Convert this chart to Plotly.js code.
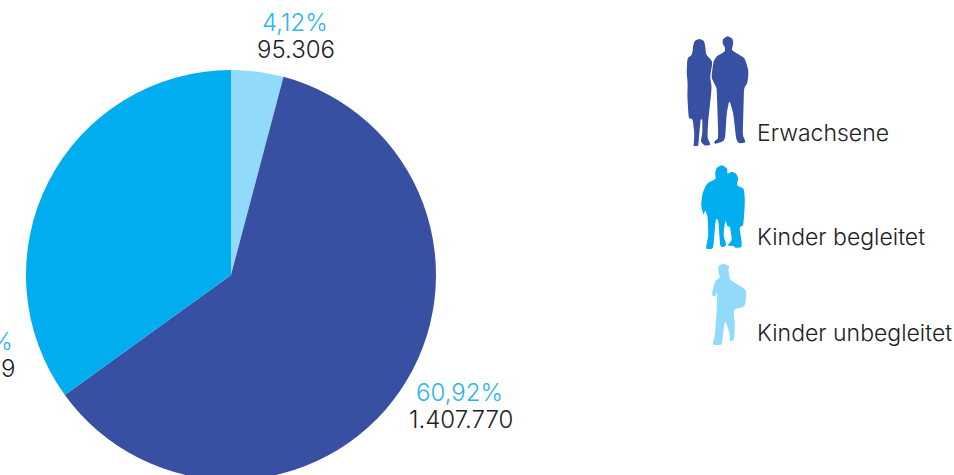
<!DOCTYPE html>
<html>
<head>
<meta charset="utf-8">
<script src="https://cdn.plot.ly/plotly-3.0.1.min.js"></script>
<style>
html,body{margin:0;padding:0;background:#fff;overflow:hidden;width:954px;height:475px}
#chart{width:954px;height:520px}
</style>
</head>
<body>
<div id="chart"></div>
<script>
// Groups of people, in slice order (clockwise from twelve o'clock)
const categories = ["Kinder unbegleitet", "Erwachsene", "Kinder begleitet"];
const counts = [95306, 1407770, 807889];
const percentLabels = ["4,12%", "60,92%", "34,96%"];
const countLabels = ["95.306", "1.407.770", "807.889"];
const sliceColors = ["#91DAFA", "#3850A2", "#00AEEF"];
const legendLabels = ["Erwachsene", "Kinder begleitet", "Kinder unbegleitet"];

const W = 954, H = 520;
const FONT = "Inter, 'Liberation Sans', sans-serif";
const px = x => x / W;
const py = y => 1 - y / H;

// Silhouette outlines, traced at 3x and placed by an origin in page pixels
const woman = [[88,56],[74,62],[69,78],[68,95],[64,106],[52,115],[50,160],[53,190],[52,230],[56,295],[68,297],[73,340],[72,365],[70,378],[85,378],[87,350],[92,298],[97,298],[97,340],[92,365],[105,377],[122,375],[112,352],[115,297],[122,235],[125,200],[120,170],[128,125],[108,103],[106,80],[102,62]];
const man = [[172,48],[158,58],[158,72],[165,82],[165,95],[140,108],[130,125],[124,172],[135,195],[140,205],[142,260],[145,355],[132,365],[135,372],[165,362],[170,280],[178,240],[190,280],[198,355],[205,370],[228,368],[218,345],[220,280],[222,205],[232,190],[236,155],[225,115],[195,97],[185,90],[190,70],[187,55]];
const kids = [[155,30],[140,38],[135,55],[138,72],[112,84],[98,112],[93,150],[100,180],[106,165],[113,185],[115,240],[110,268],[108,282],[128,282],[131,265],[137,192],[145,194],[150,270],[155,277],[170,272],[160,240],[166,195],[172,214],[180,215],[186,255],[172,272],[190,272],[197,279],[215,277],[215,260],[208,216],[220,212],[225,140],[222,100],[200,92],[205,70],[198,55],[185,50],[172,57],[172,40]];
const boy = [[160,326],[145,332],[145,350],[150,368],[135,378],[125,420],[135,425],[142,410],[140,470],[135,540],[127,570],[155,570],[160,530],[165,495],[178,530],[180,560],[192,555],[195,510],[190,463],[225,455],[230,405],[180,375],[175,345],[178,332]];

// Closed outline with each corner eased by a short quadratic segment
function silhouette(points, ox, oy, color) {
  const pts = points.map(p => [ox + p[0] / 3, oy + p[1] / 3]);
  const n = pts.length, ease = 0.25;
  const toward = (p, q) => [p[0] + (q[0] - p[0]) * ease, p[1] + (q[1] - p[1]) * ease];
  const fmt = p => `${px(p[0])} ${py(p[1])}`;
  let d = "";
  pts.forEach((p, i) => {
    const a = toward(p, pts[(i + n - 1) % n]);
    const b = toward(p, pts[(i + 1) % n]);
    d += `${i ? "L" : "M"} ${fmt(a)} Q ${fmt(p)} ${fmt(b)} `;
  });
  return {type: "path", xref: "paper", yref: "paper", path: d + "Z",
          fillcolor: color, line: {width: 0}, layer: "above"};
}

function label(text, x, y, color, anchor, size) {
  return {text, xref: "paper", yref: "paper", x: px(x), y: py(y),
          xanchor: anchor, yanchor: "middle", showarrow: false,
          font: {family: FONT, size, color, weight: 300}};
}

const LABEL_BLUE = "#2BB5EE", INK = "#222222";
const VALUE_SIZE = 24, LEGEND_SIZE = 23;

const annotations = [
  label(percentLabels[0], 295, 23, LABEL_BLUE, "center", VALUE_SIZE),
  label(countLabels[0], 295.5, 50, INK, "center", VALUE_SIZE),
  label(percentLabels[1], 459, 392, LABEL_BLUE, "center", VALUE_SIZE),
  label(countLabels[1], 460.5, 419, INK, "center", VALUE_SIZE),
  label(percentLabels[2], 15, 341, LABEL_BLUE, "right", VALUE_SIZE),
  label(countLabels[2], 17, 368, INK, "right", VALUE_SIZE),
  label(legendLabels[0], 755, 133, INK, "left", LEGEND_SIZE),
  label(legendLabels[1], 755, 237, INK, "left", LEGEND_SIZE),
  label(legendLabels[2], 755, 333, INK, "left", LEGEND_SIZE)
];

const shapes = [
  silhouette(woman, 670, 20, "#3850A2"),
  silhouette(man, 670, 20, "#3850A2"),
  silhouette(kids, 670, 155, "#00AEEF"),
  silhouette(boy, 670, 155, "#91DAFA")
];

Plotly.newPlot("chart", [{
  type: "pie",
  labels: categories,
  values: counts,
  sort: false,
  direction: "clockwise",
  rotation: 0,
  textinfo: "none",
  hoverinfo: "label+value+percent",
  marker: {colors: sliceColors, line: {width: 0}},
  domain: {x: [px(26), px(436)], y: [py(480), py(70)]}
}], {
  width: W, height: H,
  margin: {l: 0, r: 0, t: 0, b: 0},
  showlegend: false,
  paper_bgcolor: "#fff",
  annotations, shapes
}, {displayModeBar: false, staticPlot: true});
</script>
</body>
</html>
